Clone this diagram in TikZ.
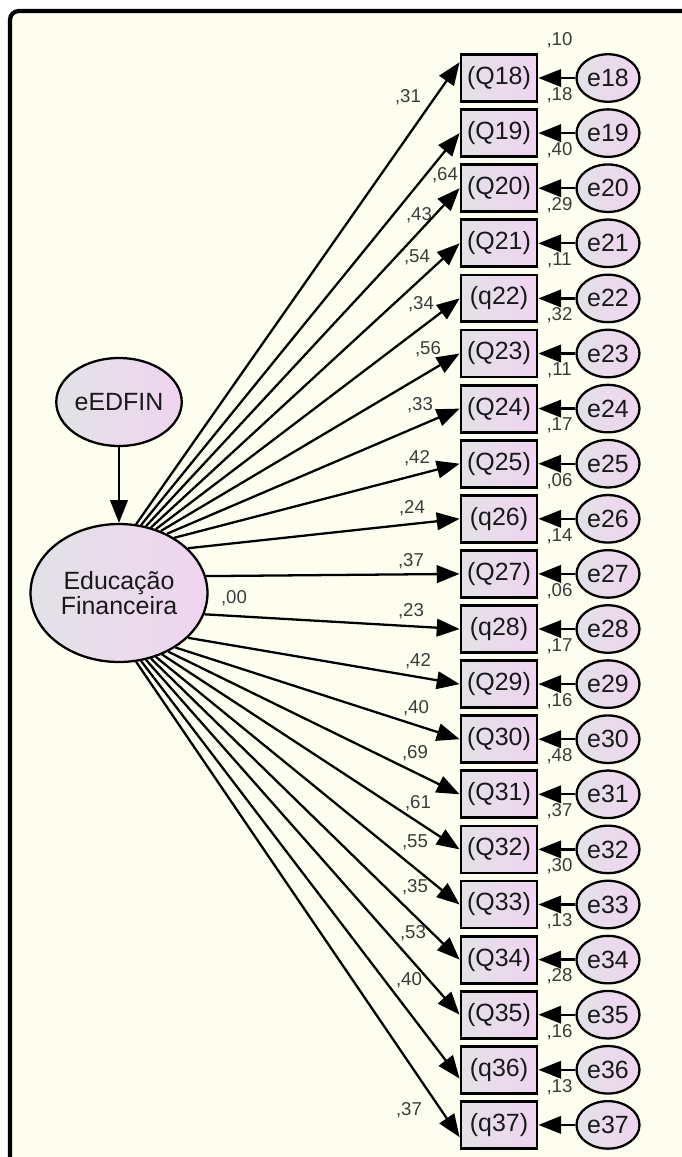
\documentclass[tikz,border=0pt]{standalone}
\usepackage{fontspec}
\setmainfont{Liberation Sans}
\usetikzlibrary{arrows.meta,shapes.geometric}

\definecolor{fundo}{RGB}{254,254,240}
\definecolor{corA}{RGB}{226,226,230}
\definecolor{corB}{RGB}{240,212,240}
\definecolor{texto}{RGB}{25,25,25}

\tikzset{
  caixa/.style={draw, line width=1.6pt, minimum width=1.52cm, minimum height=0.94cm,
    inner sep=0pt, left color=corA, right color=corB, text=texto,
    font=\fontsize{14.2}{15}\selectfont},
  erro/.style={draw, ellipse, line width=1.3pt, minimum width=1.26cm, minimum height=0.95cm,
    inner sep=0pt, left color=corA, right color=corB, text=texto,
    font=\fontsize{14.2}{15}\selectfont},
  seta/.style={line width=1.3pt, -{Triangle[length=13pt,width=10pt]}},
  coef/.style={inner sep=0pt, text=texto!85, font=\fontsize{10.6}{12}\selectfont}
}

\begin{document}
\begin{tikzpicture}[x=0.02cm, y=-0.02cm]

% Fundo e moldura
\fill[white] (0,0) rectangle (682,1157);
\useasboundingbox (0,0) rectangle (682,1157);
\fill[fundo] (10,11) rectangle (682,1157);
\draw[line width=2.4pt, rounded corners=5pt] (10,1157) -- (10,11) -- (682,11);

% Variavel latente
\node[draw, ellipse, line width=1.3pt, minimum width=2.1cm, minimum height=1.76cm,
  inner sep=0pt, left color=corA, right color=corB, text=texto,
  font=\fontsize{14.2}{15}\selectfont] (eedfin) at (119,402) {eEDFIN};
\node[draw, ellipse, line width=1.3pt, minimum width=3.54cm, minimum height=2.76cm,
  inner sep=0pt, left color=corA, right color=corB, text=texto, align=center,
  font=\fontsize{14.2}{14}\selectfont] (ef) at (119,593) {Educação\\Financeira};
\draw[seta] (eedfin) -- (ef);

\node[coef] (l00) at (234,598) {,00};

% Indicadores, erros e cargas
\foreach \nm/\ql/\ang/\dy/\lx/\ly/\ld/\rq in {
  18/Q/76/9pt/408/97/{,31}/{,10},
  19/Q/72/0pt/445/175/{,64}/{,18},
  20/Q/68/0pt/419/215/{,43}/{,40},
  21/Q/64/0pt/417/257/{,54}/{,29},
  22/q/60/0pt/421/304/{,34}/{,11},
  23/Q/56/0pt/428/349/{,56}/{,32},
  24/Q/51/0pt/420/405/{,33}/{,11},
  25/Q/45/0pt/417/458/{,42}/{,17},
  26/q/33/0pt/412/508/{,24}/{,06},
  27/Q/11/0pt/411/561/{,37}/{,14},
  28/q/-14/0pt/411/611/{,23}/{,06},
  29/Q/-33/0pt/418/661/{,42}/{,17},
  30/Q/-44/0pt/416/708/{,40}/{,16},
  31/Q/-50/0pt/415/753/{,69}/{,48},
  32/Q/-55/0pt/418/803/{,61}/{,37},
  33/Q/-60/0pt/415/842/{,55}/{,30},
  34/Q/-64/0pt/415/887/{,35}/{,13},
  35/Q/-68/0pt/413/933/{,53}/{,28},
  36/q/-72/-5pt/409/980/{,40}/{,16},
  37/q/-76/-7pt/409/1110/{,37}/{,13}}
{
  \pgfmathsetmacro{\yy}{78+55.1*(\nm-18)}
  \node[caixa] (q\nm) at (499,\yy) {(\ql\nm)};
  \node[erro] (e\nm) at (608,\yy) {e\nm};
  \draw[seta] (e\nm) -- (q\nm);
  \draw[seta] (ef.\ang) -- ([yshift=\dy]q\nm.west);
  \node[coef] (l\nm) at (\lx,\ly) {\ld};
  \node[coef] (r\nm) at ([xshift=12pt,yshift=7.5pt]q\nm.north east) {\rq};
}

\end{tikzpicture}
\end{document}
